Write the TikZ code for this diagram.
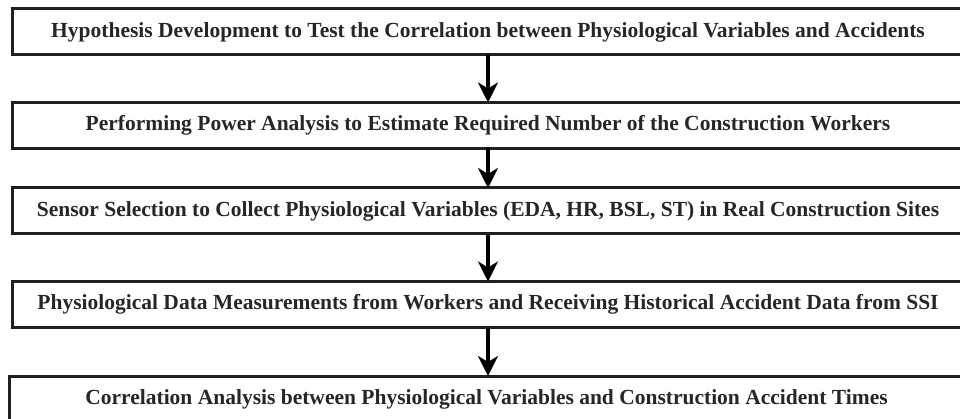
\documentclass[tikz,border=0pt]{standalone}
\usepackage{fontspec}
\setmainfont{Liberation Serif}
\usetikzlibrary{arrows.meta}
\tikzset{
  stagebox/.style={draw=black!88, line width=3pt, rectangle, minimum height=46pt, inner sep=0pt, outer sep=0pt, align=center, font=\fontsize{21.5}{24}\selectfont\bfseries, text=black!85},
  flowarrow/.style={line width=3.2pt, black, -{Stealth[length=20pt,width=20pt,inset=6pt]}}
}
\begin{document}
\begin{tikzpicture}[x=1pt,y=-1pt]
\useasboundingbox (0,0) rectangle (960,419);
\clip (0,0) rectangle (960,419);
\node[stagebox, minimum width=952pt] (b1) at (488,32) {Hypothesis Development to Test the Correlation between Physiological Variables and Accidents};
\node[stagebox, minimum width=952pt] (b2) at (488,125.5) {Performing Power Analysis to Estimate Required Number of the Construction Workers};
\node[stagebox, minimum width=952pt] (b3) at (488,211) {Sensor Selection to Collect Physiological Variables (EDA, HR, BSL, ST) in Real Construction Sites};
\node[stagebox, minimum width=952pt] (b4) at (488,304.5) {Physiological Data Measurements from Workers and Receiving Historical Accident Data from SSI};
\node[stagebox, minimum width=955pt, minimum height=46pt] (b5) at (486.5,399) {Correlation Analysis between Physiological Variables and Construction Accident Times};
\draw[flowarrow] (b1.south) -- (b2.north);
\draw[flowarrow] (b2.south) -- (b3.north);
\draw[flowarrow] (b3.south) -- (b4.north);
\draw[flowarrow] (b4.south) -- (b4.south |- b5.north);
\end{tikzpicture}
\end{document}
